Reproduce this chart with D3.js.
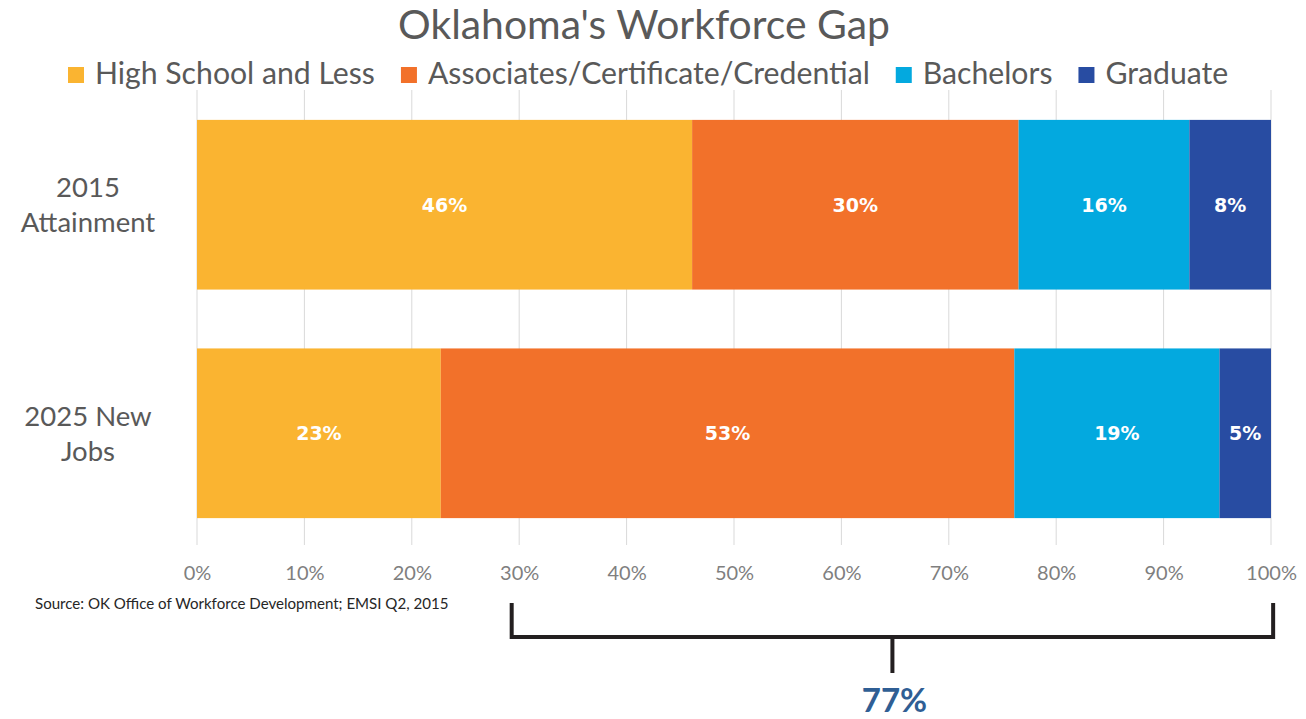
<!DOCTYPE html>
<html><head><meta charset="utf-8">
<script src="https://cdn.jsdelivr.net/npm/d3@7"></script>
<style>body{margin:0;background:#fff}svg{display:block}</style>
</head><body>
<svg id="c" width="1306" height="719"></svg>
<script>
const categories = ["2015 Attainment", "2025 New Jobs"];
const categoryLines = [["2015", "Attainment"], ["2025 New", "Jobs"]];
const seriesNames = ["High School and Less", "Associates/Certificate/Credential", "Bachelors", "Graduate"];
const highSchool = [46.1, 22.7];
const associates = [30.4, 53.4];
const bachelors = [15.9, 19.1];
const graduate = [7.6, 4.8];
const tickValues = [0, 10, 20, 30, 40, 50, 60, 70, 80, 90, 100];
const gapLabel = "77%";
const gapRange = [29.3, 100.2];
const colors = ["#FAB431", "#F2712A", "#03A9DF", "#284CA2"];

const svg = d3.select("#c");
const font = "Lato, 'Open Sans', sans-serif";
const margin = {left: 197, right: 35, top: 90, bottom: 174};
const W = 1306, H = 719;
const x = d3.scaleLinear().domain([0, 100]).range([margin.left, W - margin.right]);
const y = d3.scaleBand().domain(categories).range([margin.top + 2, H - margin.bottom + 1]).paddingInner(0.2576).paddingOuter(0.122);

function fit(sel, target) {
  const n = sel.node();
  let fs = parseFloat(sel.attr("font-size"));
  const w = n.getComputedTextLength();
  sel.attr("font-size", fs * target / w);
  return sel;
}

// gridlines
svg.append("g").selectAll("line").data(tickValues).join("line")
  .attr("x1", d => x(d)).attr("x2", d => x(d))
  .attr("y1", margin.top).attr("y2", H - margin.bottom)
  .attr("stroke", "#d9d9d9").attr("stroke-width", 1);

// stacked bars
const rows = categories.map((c, i) => ({cat: c, v: [highSchool[i], associates[i], bachelors[i], graduate[i]]}));
const keys = [0, 1, 2, 3];
const stack = d3.stack().keys(keys).value((d, k) => d.v[k]);
const layers = stack(rows);
const g = svg.append("g");
layers.forEach((layer, k) => {
  g.append("g").selectAll("rect").data(layer).join("rect")
    .attr("x", d => x(d[0])).attr("width", d => x(d[1]) - x(d[0]))
    .attr("y", d => y(d.data.cat)).attr("height", y.bandwidth())
    .attr("fill", colors[k]);
  g.append("g").selectAll("text").data(layer).join("text")
    .attr("x", d => (x(d[0]) + x(d[1])) / 2)
    .attr("y", d => y(d.data.cat) + y.bandwidth() / 2)
    .attr("dy", "0.36em")
    .attr("text-anchor", "middle")
    .attr("fill", "#fff").attr("font-weight", "bold")
    .attr("font-family", "'DejaVu Sans', sans-serif").attr("font-size", 19)
    .text(d => Math.round(d[1] - d[0]) + "%");
});

// axis tick labels
const ax = d3.axisBottom(x).tickValues(tickValues).tickSize(0).tickPadding(0).tickFormat(d => d + "%");
const axg = svg.append("g").attr("transform", `translate(0,${H - margin.bottom + 21})`).call(ax);
axg.select(".domain").remove();
axg.selectAll("text").attr("font-family", font).attr("font-size", 20).attr("fill", "#7f7f7f").attr("dy", "0.71em");

// category labels
categoryLines.forEach((lines, i) => {
  const cy = y(categories[i]) + y.bandwidth() / 2;
  const t = svg.append("text").attr("x", 88).attr("text-anchor", "middle")
    .attr("font-family", font).attr("font-size", 27.5).attr("fill", "#595959");
  lines.forEach((ln, j) => {
    t.append("tspan").attr("x", 88).attr("y", cy + (j - 0.5) * 35).attr("dy", "0.36em").text(ln);
  });
});

// title
const title = svg.append("text").attr("x", 644).attr("y", 39).attr("text-anchor", "middle")
  .attr("font-family", font).attr("font-size", 32).attr("fill", "#595959").text("Oklahoma's Workforce Gap");
fit(title, 492);

// legend
const leg = svg.append("g");
let lx = 68;
let legFs = 24;
const probe = leg.append("text").attr("font-family", font).attr("font-size", 24).text(seriesNames[0]);
fit(probe, 280);
legFs = parseFloat(probe.attr("font-size"));
probe.remove();
seriesNames.forEach((s, k) => {
  leg.append("rect").attr("x", lx).attr("y", 67).attr("width", 16).attr("height", 16).attr("fill", colors[k]);
  const t = leg.append("text").attr("x", lx + 27).attr("y", 84).attr("font-family", font)
    .attr("font-size", legFs).attr("fill", "#595959").text(s);
  lx = lx + 27 + t.node().getComputedTextLength() + 26;
});

// source
const src = svg.append("text").attr("x", 35).attr("y", 609).attr("font-family", font)
  .attr("font-size", 12.5).attr("fill", "#262626").text("Source: OK Office of Workforce Development;  EMSI Q2, 2015");
fit(src, 414);

// bracket
const bx0 = x(gapRange[0]), bx1 = x(gapRange[1]);
const mid = (bx0 + bx1) / 2;
svg.append("path")
  .attr("d", `M${bx0},603 V637 H${bx1} V603 M${mid},637 V673`)
  .attr("fill", "none").attr("stroke", "#231f20").attr("stroke-width", 4);
svg.append("text").attr("x", mid + 2).attr("y", 712).attr("text-anchor", "middle")
  .attr("font-family", font).attr("font-weight", "bold").attr("font-size", 33)
  .attr("fill", "#2f5e94").text(gapLabel);
</script>
</body></html>
